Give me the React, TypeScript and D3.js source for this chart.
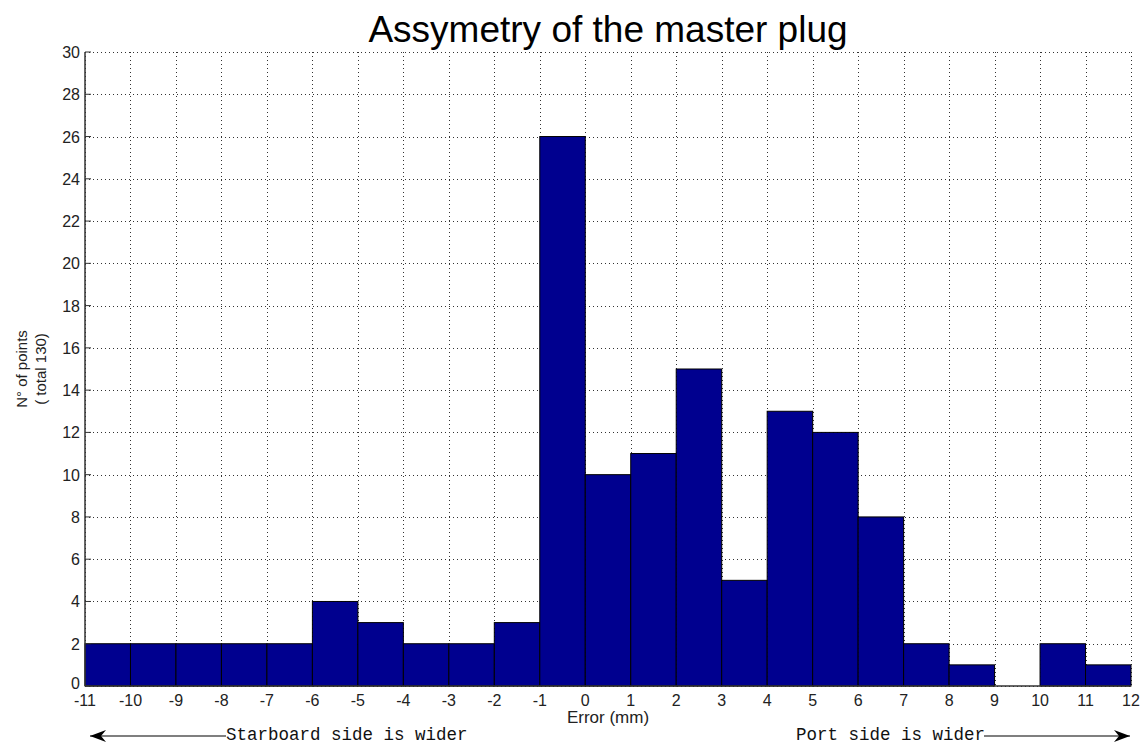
import React from "react";
import * as d3 from "d3";

// Histogram of the measured left/right error of the plug (130 points, 1 mm bins)
const binStarts: number[] = [-11, -10, -9, -8, -7, -6, -5, -4, -3, -2, -1, 0, 1, 2, 3, 4, 5, 6, 7, 8, 9, 10, 11];
const counts: number[] = [2, 2, 2, 2, 2, 4, 3, 2, 2, 3, 26, 10, 11, 15, 5, 13, 12, 8, 2, 1, 0, 2, 1];
const xTicks: number[] = [-11, -10, -9, -8, -7, -6, -5, -4, -3, -2, -1, 0, 1, 2, 3, 4, 5, 6, 7, 8, 9, 10, 11, 12];
const yTicks: number[] = [0, 2, 4, 6, 8, 10, 12, 14, 16, 18, 20, 22, 24, 26, 28, 30];

const titleText = "Assymetry of the master plug";
const xLabel = "Error (mm)";
const yLabelLines = ["N\u00B0 of points", "( total 130)"];
const leftNote = "Starboard side is wider";
const rightNote = "Port side is wider";

const W = 1143;
const H = 745;
const plot = { left: 85, right: 1131, top: 52, bottom: 686 };
const sans = "'Liberation Sans', Arial, Helvetica, sans-serif";
const mono = "'Liberation Mono', 'Courier New', monospace";
const barFill = "#00008f";

export default function App() {
  const x = d3.scaleLinear().domain([-11, 12]).range([plot.left, plot.right]);
  const y = d3.scaleLinear().domain([0, 30]).range([plot.bottom, plot.top]);
  const cx = (plot.left + plot.right) / 2;
  const cy = (plot.top + plot.bottom) / 2;
  const arrowY = 736;

  return (
    <svg
      width={W}
      height={H}
      viewBox={`0 0 ${W} ${H}`}
      style={{ position: "absolute", left: 0, top: 0, background: "#fff" }}
    >
      <defs>
        {/* arrow head pointing along the line; reversed at the start */}
        <marker id="head" viewBox="0 0 16 12" refX="16" refY="6" markerWidth="16" markerHeight="12" markerUnits="userSpaceOnUse" orient="auto-start-reverse">
          <path d="M16,6 L0,0 L5,6 L0,12 Z" fill="#000" />
        </marker>
      </defs>

      {/* title */}
      <text x={cx} y={42} textAnchor="middle" fontFamily={sans} fontSize={37} fill="#000">
        {titleText}
      </text>

      {/* grid */}
      <g stroke="#333" strokeWidth={1} strokeDasharray="1 3">
        {xTicks.map((t) => (
          <line key={"gx" + t} x1={Math.round(x(t)) + 0.5} x2={Math.round(x(t)) + 0.5} y1={plot.top} y2={plot.bottom} />
        ))}
        {yTicks.map((t) => (
          <line key={"gy" + t} x1={plot.left} x2={plot.right} y1={Math.round(y(t)) + 0.5} y2={Math.round(y(t)) + 0.5} />
        ))}
      </g>

      {/* bars */}
      <g fill={barFill} stroke="#000" strokeWidth={1}>
        {binStarts.map((s, i) =>
          counts[i] > 0 ? (
            <rect
              key={"b" + s}
              x={x(s)}
              y={y(counts[i])}
              width={x(s + 1) - x(s)}
              height={y(0) - y(counts[i])}
            />
          ) : null
        )}
      </g>

      {/* axes */}
      <g stroke="#333" strokeWidth={1.5}>
        <line x1={plot.left} x2={plot.left} y1={plot.top} y2={plot.bottom} />
        <line x1={plot.left} x2={plot.right} y1={plot.bottom} y2={plot.bottom} />
        {yTicks.map((t) => (
          <line key={"ty" + t} x1={plot.left} x2={plot.left + 6} y1={y(t)} y2={y(t)} strokeWidth={1} />
        ))}
      </g>

      {/* y tick labels */}
      <g fontFamily={sans} fontSize={16} fill="#222" textAnchor="end">
        {yTicks.map((t) => (
          <text key={"ly" + t} x={plot.left - 5} y={y(t) + (t === 0 ? 3 : 6)}>
            {t}
          </text>
        ))}
      </g>

      {/* x tick labels */}
      <g fontFamily={sans} fontSize={16} fill="#222" textAnchor="middle">
        {xTicks.map((t) => (
          <text key={"lx" + t} x={x(t)} y={706}>
            {t}
          </text>
        ))}
      </g>

      {/* axis labels */}
      <text x={cx} y={723} textAnchor="middle" fontFamily={sans} fontSize={17} fill="#222">
        {xLabel}
      </text>
      <g fontFamily={sans} fontSize={15} fill="#222" textAnchor="middle">
        <text transform={`translate(27,${cy}) rotate(-90)`}>{yLabelLines[0]}</text>
        <text transform={`translate(46,${cy}) rotate(-90)`}>{yLabelLines[1]}</text>
      </g>

      {/* direction notes */}
      <g stroke="#000" strokeWidth={1.2}>
        <line x1={90} x2={226} y1={arrowY} y2={arrowY} markerStart="url(#head)" />
        <line x1={984} x2={1130} y1={arrowY} y2={arrowY} markerEnd="url(#head)" />
      </g>
      <g fontFamily={mono} fontSize={17.5} fill="#111">
        <text x={226} y={740}>{leftNote}</text>
        <text x={796} y={740}>{rightNote}</text>
      </g>
    </svg>
  );
}
